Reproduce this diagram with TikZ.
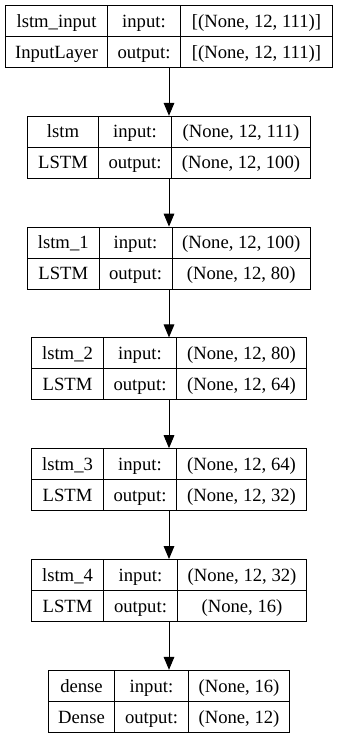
\documentclass[tikz,border=0pt]{standalone}
\usepackage{fontspec}
\setmainfont{Liberation Serif}
\usetikzlibrary{arrows.meta}

\begin{document}
\begin{tikzpicture}[
  x=0.75pt, y=-0.75pt,
  frame/.style={draw=black, line width=0.75pt, anchor=north west, inner sep=0pt,
                minimum height=46.5pt},
  cell/.style={draw=black, line width=0.75pt, anchor=north west, inner sep=0pt,
               minimum height=23.25pt, text height=9.3pt, text depth=0pt,
               font=\fontsize{14}{17}\selectfont},
  arrow/.style={-{Triangle[length=9.75pt, width=8pt]}, line width=0.75pt}
]
  \useasboundingbox (0,0) rectangle (337,737);
  % one row per layer: index / column edges / name / kind / shapes
  \foreach \i/\a/\b/\c/\d/\nm/\kind/\inp/\outp in {
      0/5/107/180/332/lstm\_input/InputLayer/{[(None, 12, 111)]}/{[(None, 12, 111)]},
      1/27/98/171/310/lstm/LSTM/{(None, 12, 111)}/{(None, 12, 100)},
      2/27/98.5/171.5/310/lstm\_1/LSTM/{(None, 12, 100)}/{(None, 12, 80)},
      3/31/103/176/306/lstm\_2/LSTM/{(None, 12, 80)}/{(None, 12, 64)},
      4/31/103/176/306/lstm\_3/LSTM/{(None, 12, 64)}/{(None, 12, 32)},
      5/31/103/177/306/lstm\_4/LSTM/{(None, 12, 32)}/{(None, 16)},
      6/48/114/188/289/dense/Dense/{(None, 16)}/{(None, 12)}}{
    \pgfmathsetmacro\yt{5+110.8*\i}
    \pgfmathsetmacro\ym{\yt+31}
    \pgfmathsetmacro\wa{(\b-\a)*0.75}
    \pgfmathsetmacro\wb{(\c-\b)*0.75}
    \pgfmathsetmacro\wc{(\d-\c)*0.75}
    \pgfmathsetmacro\wf{(\d-\a)*0.75}
    \node[frame, minimum width=\wf pt] (layer\i) at (\a,\yt) {};
    \node[cell, minimum width=\wa pt] (name\i) at (\a,\yt) {\nm};
    \node[cell, minimum width=\wb pt] (inlabel\i) at (\b,\yt) {input:};
    \node[cell, minimum width=\wc pt] (inshape\i) at (\c,\yt) {\inp};
    \node[cell, minimum width=\wa pt] (kind\i) at (\a,\ym) {\kind};
    \node[cell, minimum width=\wb pt] (outlabel\i) at (\b,\ym) {output:};
    \node[cell, minimum width=\wc pt] (outshape\i) at (\c,\ym) {\outp};
  }
  \foreach \i [evaluate=\i as \j using int(\i+1)] in {0,...,5}
    \draw[arrow] (layer\i.south) -- (layer\j.north);
\end{tikzpicture}
\end{document}
